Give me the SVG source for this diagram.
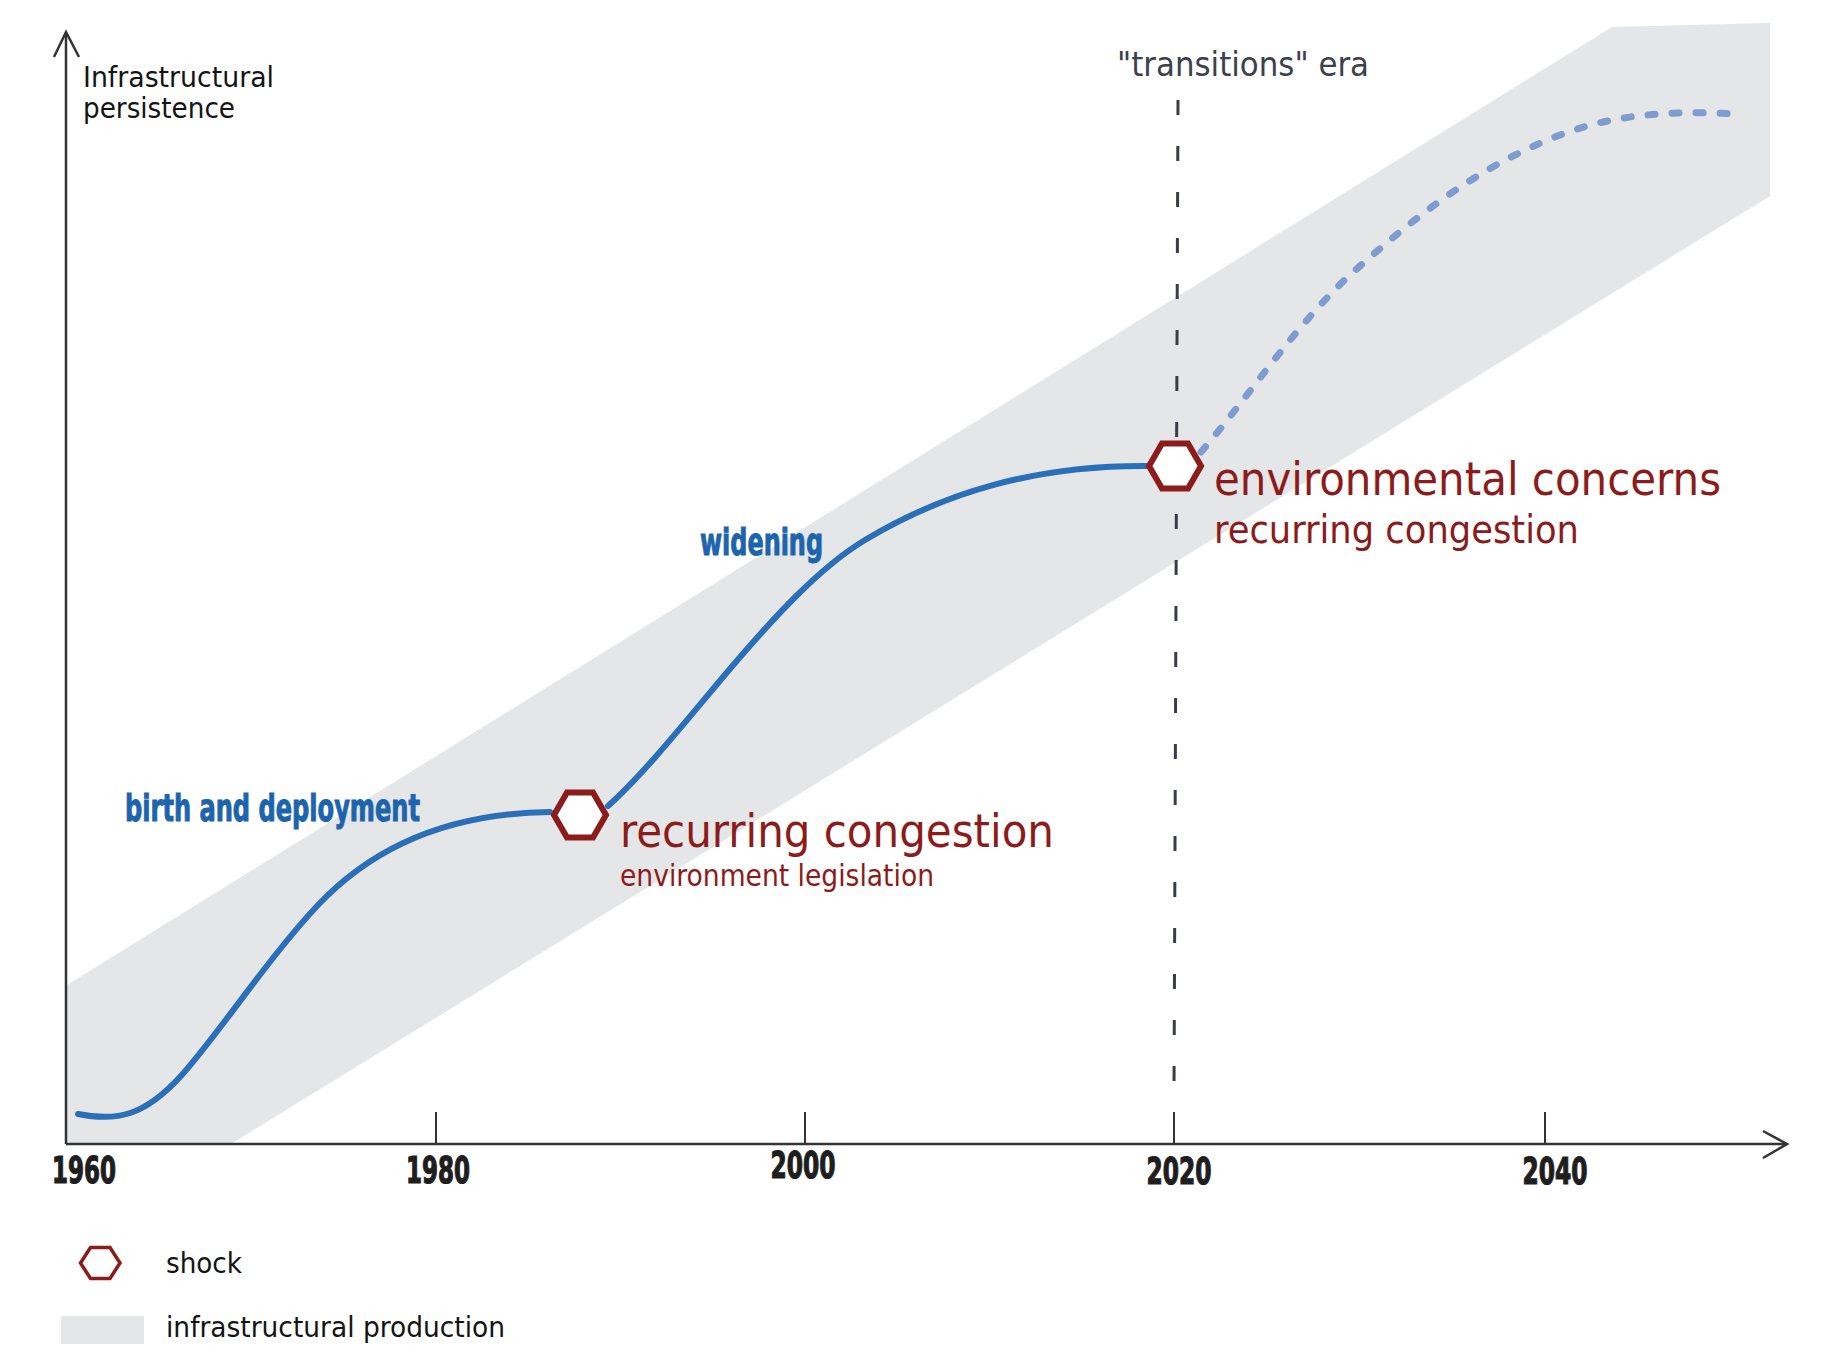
<svg xmlns="http://www.w3.org/2000/svg" width="1833" height="1353" viewBox="0 0 1833 1353">
<style>
.band{fill:#e5e6e8}
.axis{stroke:#333;stroke-width:2.5;fill:none}
.tick{stroke:#333;stroke-width:2}
.era{stroke:#3a3d45;stroke-width:3;stroke-dasharray:15 31;fill:none}
.solid{stroke:#2a6fb7;stroke-width:6;fill:none;stroke-linecap:round}
.future{stroke:#7e9ccf;stroke-width:7;fill:none;stroke-linecap:round;stroke-dasharray:7 17}
.hex{fill:#fff;stroke:#8c1b1b;stroke-width:6;stroke-linejoin:miter}
.hexs{fill:#fff;stroke:#8c1b1b;stroke-width:3.5}
.year{font-family:"Liberation Sans Narrow","DejaVu Sans Condensed","Liberation Sans",sans-serif;font-stretch:condensed;font-weight:bold;font-size:37px;fill:#1e1e1e;stroke:#1e1e1e;stroke-width:1.2;text-anchor:middle}
.phase{font-family:"Liberation Sans Narrow","DejaVu Sans Condensed","Liberation Sans",sans-serif;font-stretch:condensed;font-weight:bold;font-size:38px;fill:#1d64ae;stroke:#1d64ae;stroke-width:1}
.lbl{font-family:"DejaVu Sans Condensed","DejaVu Sans",sans-serif;font-stretch:condensed}
.red{fill:#8c1b1b}
</style>
<g id="band"><polygon class="band" points="67,985 1612,27 1770,23 1770,196 231,1144 67,1144"/></g>
<g id="axes">
<line class="axis" x1="66" y1="1144" x2="66" y2="33"/>
<polyline class="axis" points="54,57 66,32 79,57"/>
<line class="axis" x1="66" y1="1144" x2="1786" y2="1144"/>
<polyline class="axis" points="1763,1131 1787,1144 1763,1158"/>
<line class="tick" x1="436" y1="1112" x2="436" y2="1144"/>
<line class="tick" x1="805" y1="1112" x2="805" y2="1144"/>
<line class="tick" x1="1174" y1="1112" x2="1174" y2="1144"/>
<line class="tick" x1="1545" y1="1112" x2="1545" y2="1144"/>
<text class="year" x="84" y="1183" textLength="64" lengthAdjust="spacingAndGlyphs">1960</text>
<text class="year" x="438" y="1183" textLength="64" lengthAdjust="spacingAndGlyphs">1980</text>
<text class="year" x="803" y="1178" textLength="65" lengthAdjust="spacingAndGlyphs">2000</text>
<text class="year" x="1179" y="1184" textLength="65" lengthAdjust="spacingAndGlyphs">2020</text>
<text class="year" x="1555" y="1184" textLength="65" lengthAdjust="spacingAndGlyphs">2040</text>
<text class="lbl" x="83" y="87" font-size="29" fill="#141414" textLength="191" lengthAdjust="spacingAndGlyphs">Infrastructural</text>
<text class="lbl" x="83" y="118" font-size="29" fill="#141414" textLength="152" lengthAdjust="spacingAndGlyphs">persistence</text>
</g>
<g id="era">
<line class="era" x1="1178" y1="100" x2="1174" y2="1092"/>
<text class="lbl" x="1117" y="76" font-size="34" fill="#3c414c" textLength="252" lengthAdjust="spacingAndGlyphs">"transitions" era</text>
</g>
<g id="connectors">
<path class="solid" d="M78,1114 C118,1122 145,1115 180,1077 C215,1039 268,958 318,905 C368,852 440,813 550,812"/>
<path class="solid" d="M608,806 C645,773 690,716 729,670 C774,617 820,567 865,540 C945,492 1036,465 1149,466"/>
<path class="future" d="M1201,452 C1250,395 1300,318 1360,266 C1420,213 1480,166 1560,135 C1620,112 1680,111 1735,114"/>
</g>
<g id="phase-birth"><text class="phase" x="125" y="821" textLength="295" lengthAdjust="spacingAndGlyphs">birth and deployment</text></g>
<g id="phase-widening"><text class="phase" x="700" y="555" textLength="123" lengthAdjust="spacingAndGlyphs">widening</text></g>
<g id="shock-1">
<polygon class="hex" points="554,815 567,792.5 593,792.5 606,815 593,837.5 567,837.5"/>
<text class="lbl red" x="620" y="847" font-size="46" textLength="434" lengthAdjust="spacingAndGlyphs">recurring congestion</text>
<text class="lbl red" x="620" y="886" font-size="29.5" textLength="314" lengthAdjust="spacingAndGlyphs">environment legislation</text>
</g>
<g id="shock-2">
<polygon class="hex" points="1149,466 1162,443.5 1188,443.5 1201,466 1188,488.5 1162,488.5"/>
<text class="lbl red" x="1214" y="495" font-size="46" textLength="507" lengthAdjust="spacingAndGlyphs">environmental concerns</text>
<text class="lbl red" x="1214" y="543" font-size="39" textLength="365" lengthAdjust="spacingAndGlyphs">recurring congestion</text>
</g>
<g id="legend">
<polygon class="hexs" points="80.5,1263 90.5,1247.5 110,1247.5 120,1263 110,1278.5 90.5,1278.5"/>
<text class="lbl" x="166" y="1273" font-size="29" fill="#141414" textLength="76" lengthAdjust="spacingAndGlyphs">shock</text>
<rect class="band" x="61" y="1316" width="83" height="28"/>
<text class="lbl" x="166" y="1337" font-size="29" fill="#141414" textLength="339" lengthAdjust="spacingAndGlyphs">infrastructural production</text>
</g>
</svg>
